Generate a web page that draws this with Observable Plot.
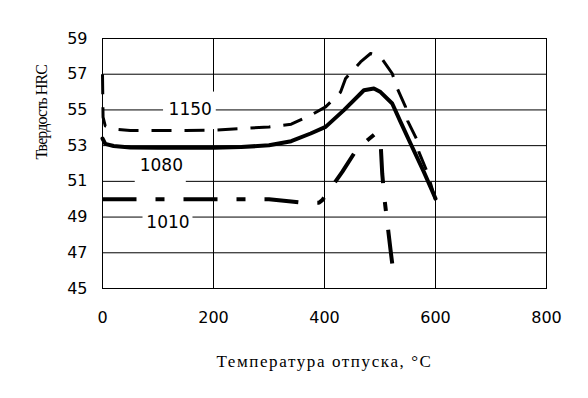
<!DOCTYPE html>
<html>
<head>
<meta charset="utf-8">
<script src="https://cdn.jsdelivr.net/npm/d3@7"></script>
<script src="https://cdn.jsdelivr.net/npm/@observablehq/plot@0.6"></script>
<style>
  html, body { margin: 0; padding: 0; background: white; }
</style>
</head>
<body>
<div id="chart"></div>
<script>
// Tick values
const xTicks = [0, 200, 400, 600, 800];
const yTicks = [45, 47, 49, 51, 53, 55, 57, 59];

// Series: quench temperature 1150
const temp1150 = [0, 1, 5, 15, 50, 100, 150, 200, 250, 300, 340, 375, 402, 429, 438, 465, 483, 501, 522, 530, 546, 550, 566, 570, 585, 600];
const hrc1150  = [57.0, 54.6, 54.1, 53.95, 53.85, 53.85, 53.85, 53.87, 53.95, 54.05, 54.2, 54.7, 55.17, 56.0, 56.76, 57.69, 58.16, 57.97, 57.04, 56.29, 55.17, 54.37, 53.36, 52.65, 51.53, 49.95];

// Series: quench temperature 1080
const temp1080 = [0, 5, 20, 50, 100, 150, 200, 250, 300, 340, 375, 402, 435, 471, 489, 501, 522, 537, 555, 579, 600];
const hrc1080  = [53.4, 53.1, 52.98, 52.9, 52.88, 52.88, 52.88, 52.92, 53.02, 53.25, 53.68, 54.05, 54.99, 56.1, 56.2, 56.0, 55.36, 54.33, 53.12, 51.53, 50.04];

// Series: quench temperature 1010
const temp1010 = [0, 100, 200, 300, 340, 360, 390, 396, 432, 459, 492, 501, 504, 508, 519, 525];
const hrc1010  = [50.0, 50.0, 50.0, 50.0, 49.87, 49.8, 49.8, 49.95, 51.53, 52.84, 53.68, 53.21, 51.44, 50.04, 47.15, 45.65];

// Curve labels
const labelText = ["1150", "1080", "1010"];
const labelTemp = [158, 106, 118];
const labelHrc  = [55.0, 51.9, 48.7];
// Label background boxes (data units)
const boxTemp1 = [110, 59, 73];
const boxTemp2 = [205, 151, 163];
const boxHrc1  = [53.9, 50.8, 48.2];
const boxHrc2  = [56.0, 52.75, 49.67];

const xTitle = "Температура отпуска, °C";
const yTitle = "Твердость HRC";

const toRows = (ts, hs) => ts.map((t, i) => ({t, h: hs[i]}));
const labels = labelText.map((s, i) => ({s, t: labelTemp[i], h: labelHrc[i]}));
const boxes = labelText.map((s, i) => ({t1: boxTemp1[i], t2: boxTemp2[i], h1: boxHrc1[i], h2: boxHrc2[i]}));

const chart = Plot.plot({
  width: 588,
  height: 398,
  marginTop: 38,
  marginBottom: 110,
  marginLeft: 102,
  marginRight: 42,
  x: {domain: [0, 800]},
  y: {domain: [45, 59]},
  style: {fontFamily: "DejaVu Sans", fontSize: "16px", background: "white", color: "black"},
  marks: [
    Plot.gridX(xTicks, {stroke: "black", strokeOpacity: 1, strokeWidth: 1}),
    Plot.gridY(yTicks, {stroke: "black", strokeOpacity: 1, strokeWidth: 1}),
    Plot.rect(boxes, {x1: "t1", x2: "t2", y1: "h1", y2: "h2", fill: "white"}),
    Plot.line(toRows(temp1150, hrc1150), {x: "t", y: "h", stroke: "black", strokeWidth: 3, strokeDasharray: "20,13", strokeLinecap: "butt"}),
    Plot.line(toRows(temp1080, hrc1080), {x: "t", y: "h", stroke: "black", strokeWidth: 4}),
    Plot.line(toRows(temp1010, hrc1010), {x: "t", y: "h", stroke: "black", strokeWidth: 4, strokeDasharray: "34,19,9,19", strokeLinecap: "butt"}),
    Plot.text(labels, {x: "t", y: "h", text: "s", fontSize: 17, fill: "black"}),
    Plot.frame({stroke: "black", strokeWidth: 1}),
    Plot.axisX(xTicks, {tickSize: 0, tickPadding: 23, label: null, fontSize: 16}),
    Plot.axisY(yTicks, {tickSize: 0, tickPadding: 15, label: null, fontSize: 16}),
    Plot.text([xTitle], {frameAnchor: "bottom", dy: 73, lineAnchor: "middle", fontFamily: "Liberation Serif", fontSize: 17, fill: "black"}),
    Plot.text([yTitle], {frameAnchor: "left", rotate: -90, textAnchor: "start", lineAnchor: "middle", dx: -61, dy: -4, fontFamily: "Liberation Serif", fontSize: 16, fill: "black"})
  ]
});

d3.select(chart).selectAll("text").filter(function() { return this.textContent === xTitle; })
  .style("letter-spacing", "1.6px");
d3.select(chart).selectAll("text").filter(function() { return this.textContent === yTitle; })
  .style("letter-spacing", "-0.9px");

document.getElementById("chart").appendChild(chart);
</script>
</body>
</html>
